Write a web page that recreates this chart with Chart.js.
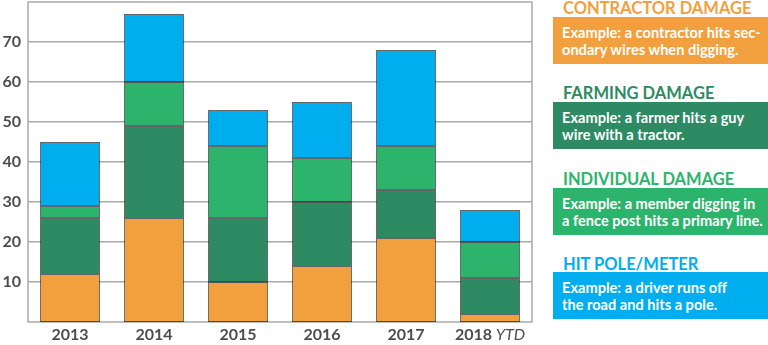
<!DOCTYPE html>
<html>
<head>
<meta charset="utf-8">
<script src="https://cdn.jsdelivr.net/npm/chart.js@4"></script>
<style>
  body { margin: 0; background: #fff; font-family: Lato, "Open Sans", sans-serif; }
  #wrap { position: relative; width: 768px; height: 345px; overflow: hidden; }
  #dmgChart { position: absolute; left: 0; top: 0; }
  .titolo { position: absolute; left: 563px; font-weight: bold; font-size: 16.5px; line-height: 18px; white-space: nowrap; }
  .box { position: absolute; left: 553px; width: 215px; height: 47px; color: #fff; font-weight: bold;
         font-size: 14.6px; line-height: 17px; padding: 7px 0 0 9px; box-sizing: border-box; white-space: nowrap; }
</style>
</head>
<body>
<div id="wrap">
  <canvas id="dmgChart" width="540" height="345"></canvas>

  <div class="titolo" style="top:-1px;color:#f2a03d">CONTRACTOR DAMAGE</div>
  <div class="box" style="top:17px;background:#f2a03d">Example: a contractor hits sec-<br>ondary wires when digging.</div>

  <div class="titolo" style="top:84px;color:#2e8a62">FARMING DAMAGE</div>
  <div class="box" style="top:102px;background:#2e8a62">Example: a farmer hits a guy<br>wire with a tractor.</div>

  <div class="titolo" style="top:170px;color:#2db46c">INDIVIDUAL DAMAGE</div>
  <div class="box" style="top:188px;background:#2db46c">Example: a member digging in<br>a fence post hits a primary line.</div>

  <div class="titolo" style="top:255px;color:#00aeef">HIT POLE/METER</div>
  <div class="box" style="top:272px;background:#00aeef">Example: a driver runs off<br>the road and hits a pole.</div>
</div>

<script>
const anni = ["2013", "2014", "2015", "2016", "2017", "2018"];
const suffissi = ["", "", "", "", "", "YTD"];
const contractor = [12, 26, 10, 14, 21, 2];
const farming = [14, 23, 16, 16, 12, 9];
const individual = [3, 11, 18, 11, 11, 9];
const hitPole = [16, 17, 9, 14, 24, 8];
const yTicks = [10, 20, 30, 40, 50, 60, 70];

// etichette asse x disegnate a mano per avere "YTD" in corsivo
const etichetteX = {
    id: 'etichetteX',
    afterDraw(chart) {
        const ctx = chart.ctx;
        const x = chart.scales.x;
        const y = chart.chartArea.bottom + 13;
        ctx.save();
        ctx.fillStyle = '#4d4d4d';
        ctx.textBaseline = 'middle';
        anni.forEach((a, i) => {
            const cx = x.getPixelForValue(i);
            ctx.font = 'bold 16px Lato';
            const w1 = ctx.measureText(a).width;
            let w2 = 0;
            if (suffissi[i]) {
                ctx.font = 'italic 16px Lato';
                w2 = ctx.measureText(' ' + suffissi[i]).width;
            }
            const start = cx - (w1 + w2) / 2;
            ctx.font = 'bold 16px Lato';
            ctx.textAlign = 'left';
            ctx.fillText(a, start, y);
            if (suffissi[i]) {
                ctx.font = 'italic 16px Lato';
                ctx.fillText(' ' + suffissi[i], start + w1, y);
            }
        });
        ctx.restore();
    }
};

// cornice intorno all'area del grafico
const cornice = {
    id: 'cornice',
    beforeDatasetsDraw(chart) {
        const a = chart.chartArea;
        const ctx = chart.ctx;
        ctx.save();
        ctx.strokeStyle = '#aaaaaa';
        ctx.lineWidth = 1.5;
        ctx.strokeRect(a.left, a.top, a.right - a.left, a.bottom - a.top);
        ctx.restore();
    }
};

const bordo = 'rgba(0,0,0,0.6)';

const data = {
    labels: anni,
    datasets: [
        { label: 'Contractor Damage', data: contractor, backgroundColor: '#f2a03d' },
        { label: 'Farming Damage', data: farming, backgroundColor: '#2e8a62' },
        { label: 'Individual Damage', data: individual, backgroundColor: '#2db46c' },
        { label: 'Hit Pole/Meter', data: hitPole, backgroundColor: '#00aeef' }
    ].map(d => Object.assign(d, {
        borderColor: bordo,
        borderWidth: 1,
        borderSkipped: false,
        barPercentage: 0.715,
        categoryPercentage: 1
    }))
};

const config = {
    type: 'bar',
    data: data,
    plugins: [cornice, etichetteX],
    options: {
        responsive: false,
        animation: false,
        layout: { padding: { left: 0, right: 8, top: 2, bottom: 0 } },
        plugins: {
            legend: { display: false },
            tooltip: { enabled: false }
        },
        scales: {
            x: {
                stacked: true,
                grid: { display: false },
                border: { display: false },
                ticks: { display: false },
                afterFit: (s) => { s.height = 23; s.paddingLeft = 0; s.paddingRight = 0; }
            },
            y: {
                stacked: true,
                min: 0,
                max: 80,
                afterFit: (s) => { s.width = 28; s.paddingTop = 0; s.paddingBottom = 0; },
                afterBuildTicks: (s) => {
                    s.ticks = [0, ...yTicks, 80].map(v => ({ value: v }));
                },
                grid: { color: '#aaaaaa', lineWidth: 1.5, drawTicks: false },
                border: { display: false },
                ticks: {
                    padding: 7,
                    color: '#4d4d4d',
                    font: { family: 'Lato', weight: 'bold', size: 16 },
                    callback: (v) => yTicks.includes(v) ? String(v) : null
                }
            }
        }
    }
};

window.dmgChart = new Chart(document.getElementById('dmgChart'), config);
</script>
</body>
</html>
